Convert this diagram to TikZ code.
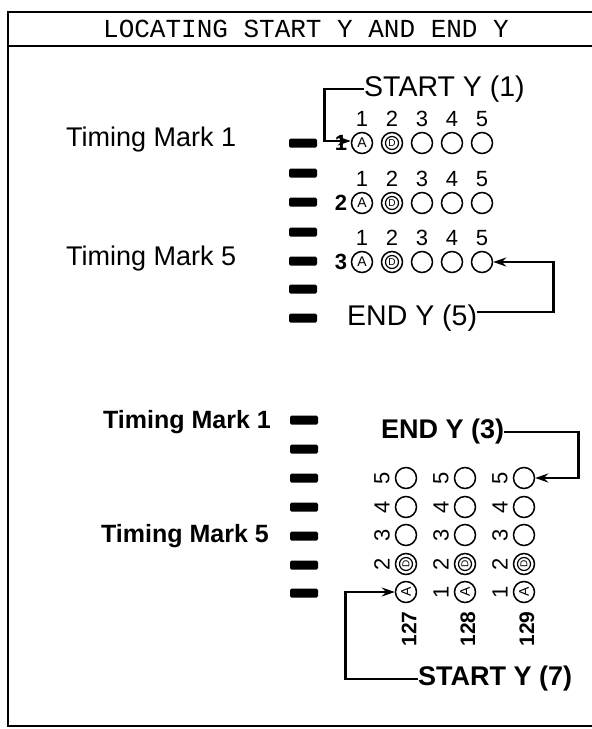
\documentclass[tikz,border=0pt]{standalone}
\usepackage{fontspec}
\setmainfont{Liberation Sans}
\newfontfamily\ttlfont{Liberation Mono}
\usetikzlibrary{arrows.meta}
\tikzset{
  frame/.style={line width=1.8pt},
  bar/.style={fill=black, minimum width=28pt, minimum height=9pt, inner sep=0pt, rounded corners=1.5pt},
  bub/.style={circle, draw, line width=1.5pt, minimum size=21pt, inner sep=0pt},
  atext/.style={inner sep=0pt, font=\fontsize{14}{14}\selectfont},
  inbub/.style={circle, draw, line width=1.2pt, minimum size=13pt, inner sep=0pt, font=\fontsize{10}{10}\selectfont},
  up/.style={inner sep=0pt, font=\fontsize{28.5}{28.5}\selectfont},
  tmu/.style={inner sep=0pt, font=\fontsize{27}{27}\selectfont},
  tml/.style={inner sep=0pt, font=\bfseries\fontsize{25}{25}\selectfont},
  low/.style={inner sep=0pt, font=\bfseries\fontsize{27}{27}\selectfont},
  dig/.style={inner sep=0pt, font=\fontsize{22}{22}\selectfont},
  rowno/.style={inner sep=0pt, font=\bfseries\fontsize{22}{22}\selectfont},
  ldig/.style={inner sep=0pt, rotate=90, font=\fontsize{22}{22}\selectfont},
  num/.style={inner sep=0pt, rotate=90, font=\bfseries\fontsize{21}{21}\selectfont},
  conn/.style={line width=2.6pt, -{Stealth[length=13pt,width=9pt]}},
}
\begin{document}
\begin{tikzpicture}[x=1pt,y=-1pt]
\useasboundingbox (0,0) rectangle (592,729);
% frame and title
\draw[frame] (592,12) -- (8,12) -- (8,726) -- (592,726);
\draw[frame] (8,46) -- (592,46);
\node[inner sep=0pt, font=\ttlfont\fontsize{26}{26}\selectfont] (title) at (306,29) {LOCATING START Y AND END Y};

% ---------- upper part ----------
\node[tmu, anchor=west] (tm1u) at (66,140) {Timing Mark 1};
\node[tmu, anchor=west] (tm5u) at (66,259) {Timing Mark 5};
\foreach \i/\y in {1/143,2/173,3/202,4/232,5/261,6/289,7/318}
  \node[bar] (ub\i) at (303,\y) {};

\foreach \r/\y in {1/143,2/203,3/262}{
  \node[rowno] (u\r-p) at (341,\y) {\r};
  \node[bub] (u\r-c1) at (362,\y) {};
  \node[atext] (u\r-c1a) at (u\r-c1) {A};
  \node[bub] (u\r-c2) at (392,\y) {};
  \node[inbub] (u\r-c2i) at (u\r-c2) {D};
  \foreach \c/\x in {3/422,4/452,5/482}
    \node[bub] (u\r-c\c) at (\x,\y) {};
  \foreach \c/\x in {1/362,2/392,3/422,4/452,5/482}
    \node[dig] (u\r-n\c) at (\x,\y-24) {\c};
}

\node[up, anchor=west] (st1) at (364,89) {START Y (1)};
\draw[conn] (st1.west) -| ([xshift=-26pt,yshift=2pt]u1-c1.west) -- ([yshift=2pt]u1-c1.west);

\node[up, anchor=west] (e5) at (347,318) {END Y (5)};
\draw[conn] ([yshift=6pt]e5.east) -| ([xshift=60pt]u3-c5.east) -- (u3-c5.east);

% ---------- lower part ----------
\node[tml, anchor=east] (tm1l) at (271,422) {Timing Mark 1};
\node[tml, anchor=east] (tm5l) at (269,536) {Timing Mark 5};
\foreach \i/\y in {1/420,2/449,3/478,4/507,5/536,6/565,7/593}
  \node[bar] (lb\i) at (304,\y) {};

\foreach \c/\x in {1/406,2/465,3/524}{
  \node[bub] (l1-c\c) at (\x,592) {};
  \node[atext, rotate=90] (l1-c\c a) at (l1-c\c) {A};
  \node[bub] (l2-c\c) at (\x,564) {};
  \node[inbub, rotate=90] (l2-c\c i) at (l2-c\c) {D};
  \node[bub] (l3-c\c) at (\x,535) {};
  \node[bub] (l4-c\c) at (\x,507) {};
  \node[bub] (l5-c\c) at (\x,478) {};
  \foreach \k/\y in {2/564,3/535,4/507,5/478}
    \node[ldig] (l\k-n\c) at (\x-24,\y) {\k};
}
\node[ldig] (l1-n2) at (441,592) {1};
\node[ldig] (l1-n3) at (500,592) {1};

\node[num] (n127) at (409,629) {127};
\node[num] (n128) at (468,629) {128};
\node[num] (n129) at (527,629) {129};

\node[low, anchor=west] (e3) at (381,432) {END Y (3)};
\draw[conn] (e3.east) -| ([xshift=43pt]l5-c3.east) -- (l5-c3.east);

\node[low, anchor=west] (s7) at (418,679) {START Y (7)};
\draw[conn] (s7.west) -| ([xshift=-49pt]l1-c1.west) -- (l1-c1.west);
\end{tikzpicture}
\end{document}
